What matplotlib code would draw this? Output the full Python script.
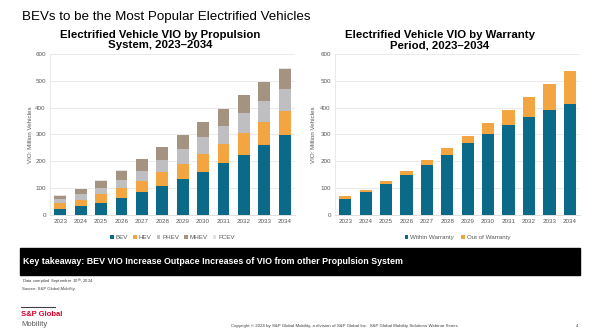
import numpy as np
import matplotlib.pyplot as plt

plt.rcParams['font.family'] = ['Liberation Sans', 'DejaVu Sans']

# 数据
years = ['2023', '2024', '2025', '2026', '2027', '2028',
         '2029', '2030', '2031', '2032', '2033', '2034']
bev = [21, 34, 46, 62, 84, 108, 133, 160, 193, 225, 261, 298]
hev = [22, 22, 32, 40, 43, 52, 57, 66, 72, 79, 84, 90]
phev = [15, 21, 21, 28, 38, 44, 55, 63, 68, 75, 80, 82]
mhev = [14, 20, 29, 35, 42, 48, 53, 58, 63, 67, 69, 75]
fcev = [1, 1, 1, 1, 1, 1, 1, 1, 1, 1, 1, 1]
within = [61, 87, 114, 150, 188, 225, 267, 302, 335, 366, 391, 412]
out_w = [10, 7, 11, 13, 16, 25, 29, 42, 56, 75, 98, 126]

c_bev = '#0b6a88'
c_hev = '#f2a541'
c_phev = '#bfbfc2'
c_mhev = '#a39380'
c_fcev = '#e2e2e2'

fig = plt.figure(figsize=(6.02, 3.35), dpi=100)
W, H = 602, 335


def px_axes(x0, y0, x1, y1):
    return fig.add_axes([x0 / W, 1 - y1 / H, (x1 - x0) / W, (y1 - y0) / H])


def style(ax, pad):
    ax.set_ylim(0, 600)
    ax.set_xlim(-0.5, 11.5)
    ax.set_yticks(range(0, 601, 100))
    ax.grid(axis='y', color='#e6e6e6', linewidth=0.6)
    ax.set_axisbelow(True)
    for s in ['top', 'right']:
        ax.spines[s].set_visible(False)
    ax.spines['left'].set_color('#e6e6e6')
    ax.spines['bottom'].set_color('#d9d9d9')
    ax.spines['left'].set_linewidth(0.6)
    ax.spines['bottom'].set_linewidth(0.6)
    ax.tick_params(length=0, labelsize=4.5, labelcolor='#595959', pad=3)
    ax.set_ylabel('VIO: Million Vehicles', fontsize=4.5, color='#595959', labelpad=pad)


x = np.arange(len(years))

# 左图：按动力系统
ax1 = px_axes(50, 54, 295, 215)
bottom = np.zeros(len(years))
for vals, col, lab in [(bev, c_bev, 'BEV'), (hev, c_hev, 'HEV'), (phev, c_phev, 'PHEV'),
                       (mhev, c_mhev, 'MHEV'), (fcev, c_fcev, 'FCEV')]:
    ax1.bar(x, vals, 0.58, bottom=bottom, color=col, label=lab)
    bottom += np.array(vals)
ax1.set_xticks(x, years)
style(ax1, 2)
ax1.legend(loc='upper center', bbox_to_anchor=(0.5, -0.09), ncol=5, frameon=False,
           fontsize=4.5, handlelength=0.6, handleheight=0.6, handletextpad=0.3,
           columnspacing=0.8, labelcolor='#595959')

# 右图：按保修期
ax2 = px_axes(335, 54, 580, 215)
ax2.bar(x, within, 0.6, color=c_bev, label='Within Warranty')
ax2.bar(x, out_w, 0.6, bottom=within, color=c_hev, label='Out of Warranty')
ax2.set_xticks(x, years)
style(ax2, 3)
ax2.legend(loc='upper center', bbox_to_anchor=(0.5, -0.09), ncol=2, frameon=False,
           fontsize=4.5, handlelength=0.6, handleheight=0.6, handletextpad=0.3,
           columnspacing=1.2, labelcolor='#595959')

# 标题
fig.text(22 / W, 1 - 17 / H, 'BEVs to be the Most Popular Electrified Vehicles',
         fontsize=9.6, va='center', ha='left')
fig.text(160 / W, 1 - 40 / H, 'Electrified Vehicle VIO by Propulsion\nSystem, 2023\u20132034',
         fontsize=8.2, fontweight='bold', ha='center', va='center', linespacing=1.1)
fig.text(440 / W, 1 - 40 / H, 'Electrified Vehicle VIO by Warranty\nPeriod, 2023\u20132034',
         fontsize=8.2, fontweight='bold', ha='center', va='center', linespacing=1.1)

# 关键结论横幅
fig.patches.append(plt.Rectangle((20 / W, 1 - 275 / H), 560 / W, 27 / H,
                                 transform=fig.transFigure, color='black'))
fig.text(23 / W, 1 - 262 / H,
         'Key takeaway: BEV VIO Increase Outpace Increases of VIO from other Propulsion System',
         fontsize=6.4, fontweight='bold', color='white', va='center')
fig.text(22 / W, 1 - 282 / H, 'Data compiled September 10$^{th}$, 2024',
         fontsize=3.1, color='#404040', va='center')
fig.text(22 / W, 1 - 289 / H, 'Source: S&P Global Mobility.',
         fontsize=3.1, color='#404040', va='center')

# 页脚
fig.add_artist(plt.Line2D([21 / W, 55 / W], [1 - 307 / H, 1 - 307 / H],
                          color='#404040', linewidth=0.8))
fig.text(21 / W, 1 - 314 / H, 'S&P Global', fontsize=5.5, fontweight='bold',
         color='#d6002a', va='center')
fig.text(21 / W, 1 - 325 / H, 'Mobility', fontsize=5.5, color='#595959', va='center')
fig.text(458 / W, 1 - 326 / H,
         'Copyright \u00a9 2024 by S&P Global Mobility, a division of S&P Global Inc.  '
         'S&P Global Mobility Solutions Webinar Series',
         fontsize=3.15, color='#404040', va='center', ha='right')
fig.text(576 / W, 1 - 326 / H, '4', fontsize=3, color='#404040', va='center')

fig.savefig('out.png', dpi=100)
